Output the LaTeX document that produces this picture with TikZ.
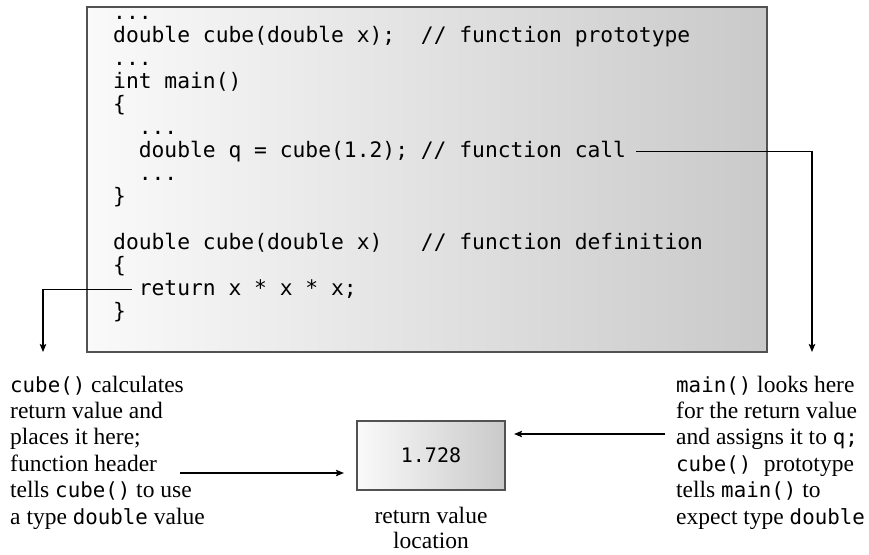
\documentclass[tikz,border=0pt]{standalone}
\usepackage{fontspec}
\setmainfont{Liberation Serif}
\newfontfamily\codefont{DejaVu Sans Mono}
\usetikzlibrary{arrows.meta}
\newcommand{\cd}[1]{{\codefont\fontsize{20.8}{20.8}\selectfont #1}}
\begin{document}
\begin{tikzpicture}[x=1pt,y=-1pt,
  codeline/.style={anchor=base west, inner sep=0pt, font=\codefont\fontsize{21.3}{23}\selectfont},
  lab/.style={anchor=base west, inner sep=0pt, font=\fontsize{23.5}{26.5}\selectfont},
  clab/.style={anchor=base, inner sep=0pt, font=\fontsize{23.5}{26.5}\selectfont},
  conn/.style={line width=1.2pt, -{Stealth[length=8pt,width=6.5pt,inset=1.5pt]}},
  panel/.style={draw=black!68, line width=2.2pt, left color=black!2, right color=black!21}
]
\useasboundingbox (0,0) rectangle (869,554);

% code panel
\node[panel, minimum width=680pt, minimum height=345pt] (code) at (427,179.5) {};
\node[codeline] (c1)  at (113,19)    {...};
\node[codeline] (c2)  at (113,42)    {double cube(double x);~~// function prototype};
\node[codeline] (c3)  at (113,65)    {...};
\node[codeline] (c4)  at (113,88)    {int main()};
\node[codeline] (c5)  at (113,111)   {\{};
\node[codeline] (c6)  at (138.6,134) {...};
\node[codeline] (c7)  at (138.6,157) {double q = cube(1.2); // function call};
\node[codeline] (c8)  at (138.6,180) {...};
\node[codeline] (c9)  at (113,203)   {\}};
\node[codeline] (c10) at (113,249)   {double cube(double x)~~~// function definition};
\node[codeline] (c11) at (113,272)   {\{};
\node[codeline] (c12) at (138.6,295) {return x * x * x;};
\node[codeline] (c13) at (113,318)   {\}};

% return value box
\node[panel, minimum width=148pt, minimum height=69pt,
      font=\codefont\fontsize{20}{20}\selectfont] (rv) at (431,455.5) {1.728};
\node[clab] (rvl1) at (431,523) {return value};
\node[clab] (rvl2) at (431,548) {location};

% left label
\node[lab] (l1) at (10,392)   {\cd{cube()} calculates};
\node[lab] (l2) at (10,418.4) {return value and};
\node[lab] (l3) at (10,444.8) {places it here;};
\node[lab] (l4) at (10,471.2) {function header};
\node[lab] (l5) at (10,497.6) {tells \cd{cube()} to use};
\node[lab] (l6) at (10,524)   {a type \cd{double} value};

% right label
\node[lab] (r1) at (676,392)   {\cd{main()} looks here};
\node[lab] (r2) at (676,418.4) {for the return value};
\node[lab] (r3) at (676,444.8) {and assigns it to \cd{q;}};
\node[lab] (r4) at (676,471.2) {\cd{cube() }prototype};
\node[lab] (r5) at (676,497.6) {tells \cd{main()} to};
\node[lab] (r6) at (676,524)   {expect type \cd{double}};

% connectors
\coordinate (rtip) at (812,352);
\coordinate (ltip) at (43,352);
\draw[conn] ([xshift=10pt,yshift=5.8pt]c7.base east) -| (rtip);
\draw[conn] ([xshift=-7pt,yshift=5.8pt]c12.base west) -| (ltip);
\coordinate (la) at ([xshift=23pt,yshift=-1.8pt]l4.base east);
\draw[conn, shorten >=12pt] (la) -- (la -| rv.west);
\coordinate (ra) at ([xshift=-11pt,yshift=10.8pt]r3.base west);
\draw[conn, shorten >=8pt] (ra) -- (ra -| rv.east);
\end{tikzpicture}
\end{document}
